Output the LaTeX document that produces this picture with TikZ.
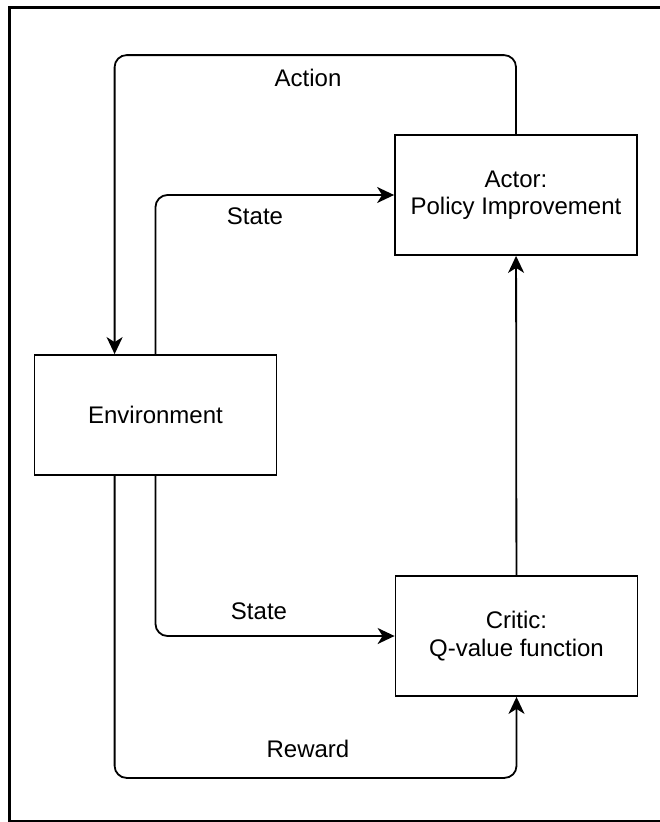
\documentclass[tikz,border=0pt]{standalone}
\usepackage{fontspec}
\setmainfont{Liberation Sans}
\usepackage{tikz}
\usetikzlibrary{arrows.meta,positioning}

\begin{document}
\begin{tikzpicture}[
  x=1pt, y=-1pt,
  block/.style={rectangle, draw, line width=1.8pt, align=center, minimum width=242pt, minimum height=120pt, font=\fontsize{24}{27.5}\selectfont},
  lbl/.style={inner sep=0pt, font=\fontsize{24}{27.5}\selectfont},
  arrow/.style={-{Stealth[length=17pt, width=16pt, inset=5pt]}, line width=1.8pt, rounded corners=12pt}
]
\useasboundingbox (0,0) rectangle (659,822);
\draw[line width=3pt] (680,7) -- (9,7) -- (9,821) -- (680,821);

\node[block] (actor) at (516,195) {Actor:\\Policy Improvement};
\node[block] (env) at (155.5,415) {Environment};
\node[block] (critic) at (516.5,636) {Critic:\\Q-value function};

\node[lbl] (actionlbl) at (308,78) {Action};
\node[lbl] (statetop) at (255,216) {State};
\node[lbl] (statebot) at (259,611) {State};
\node[lbl] (rewardlbl) at (308,749) {Reward};

\draw[arrow] (actor.north) -- ++(0,-79) -| ([xshift=81pt]env.north west);
\draw[arrow] (env.north) |- (actor.west);
\draw[arrow] (env.south) |- (critic.west);
\draw[arrow] ([xshift=81pt]env.south west) -- ++(0,302) -| (critic.south);
\draw[arrow] (critic) -- (actor);
\end{tikzpicture}
\end{document}
